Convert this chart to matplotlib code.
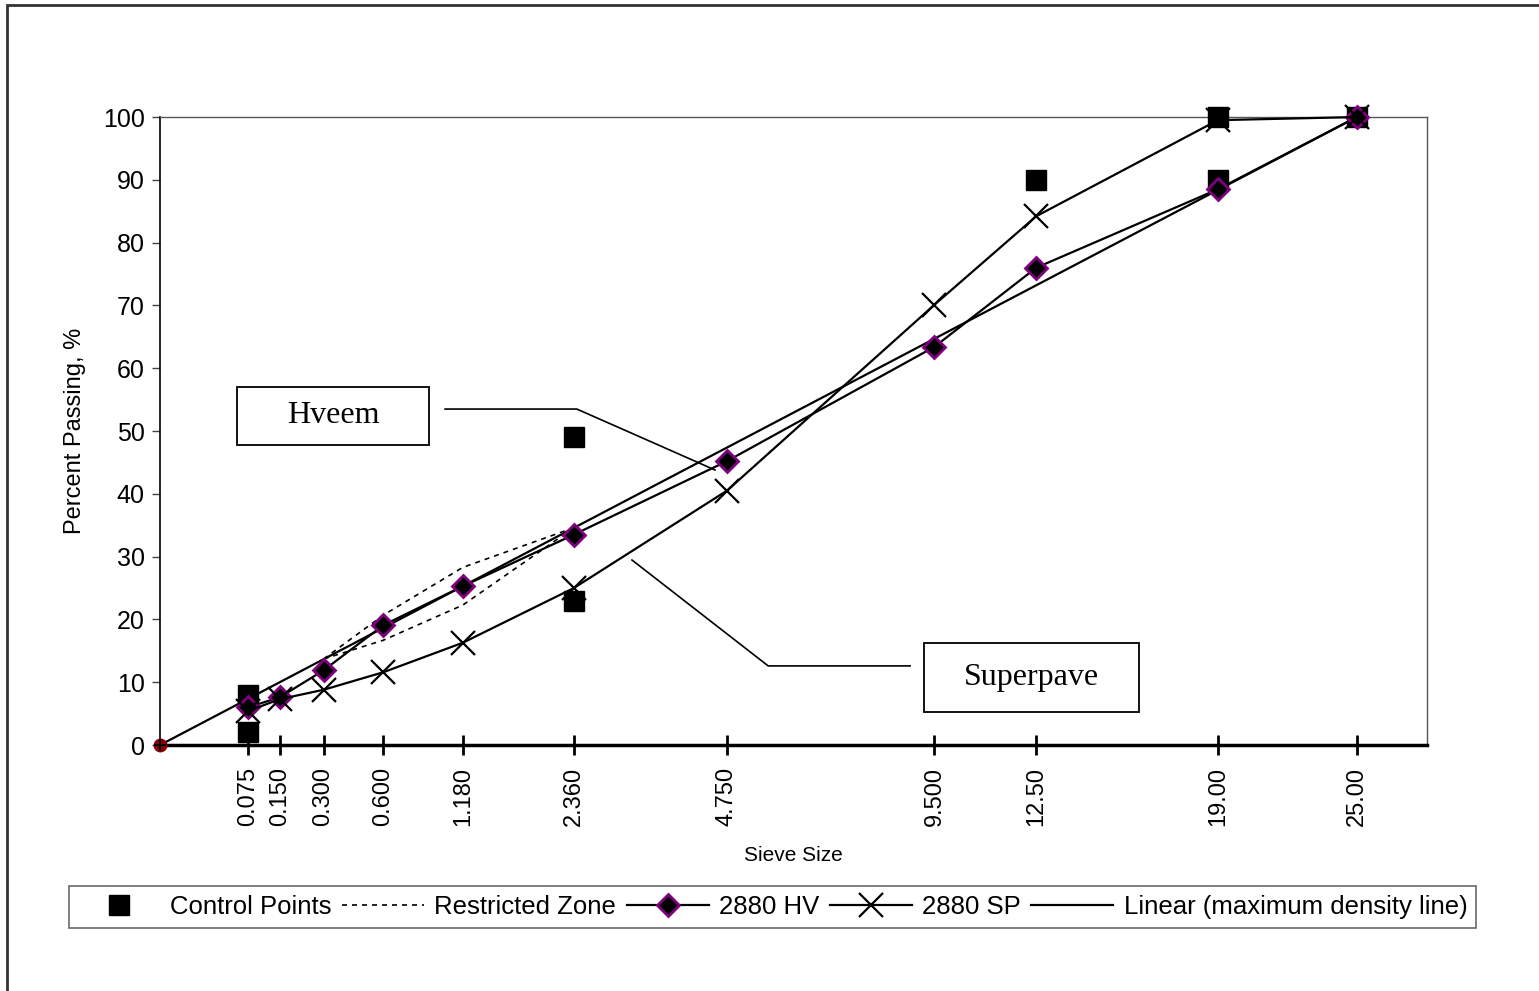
import matplotlib
matplotlib.use("Agg")
import matplotlib.pyplot as plt
from matplotlib.patches import Rectangle
import numpy as np

plt.rcParams.update({"font.family": ["Liberation Sans", "DejaVu Sans"]})

# 0.45 power gradation chart data
sieves = [0.075, 0.150, 0.300, 0.600, 1.180, 2.360, 4.750, 9.500, 12.50, 19.00, 25.00]
sieve_labels = ["0.075", "0.150", "0.300", "0.600", "1.180", "2.360", "4.750",
                "9.500", "12.50", "19.00", "25.00"]
hv_pass = [6.0, 7.6, 11.9, 19.1, 25.3, 33.5, 45.2, 63.4, 76.0, 88.5, 100.0]
sp_pass = [5.4, 7.3, 8.8, 11.6, 16.3, 25.0, 40.5, 70.1, 84.2, 99.5, 100.0]

ctrl_size = [0.075, 0.075, 2.360, 2.360, 12.50, 19.00, 19.00, 25.00]
ctrl_pass = [2.0, 8.0, 23.0, 49.0, 90.0, 90.0, 100.0, 100.0]

rz_size = [0.300, 0.600, 1.180, 2.360]
rz_lower = [13.7, 16.7, 22.3, 34.6]
rz_upper = [13.7, 20.7, 28.3, 34.6]

mdl_size = [0.0, 25.00]
mdl_pass = [0.0, 100.0]

POW = 0.45
fwd = lambda x: np.sign(x) * np.abs(x) ** POW
inv = lambda x: np.sign(x) * np.abs(x) ** (1 / POW)

fig = plt.figure(figsize=(15.39, 9.91), dpi=100)
ax = fig.add_axes([0.104, 0.2482, 0.8232, 0.6337])
ax.set_xscale("function", functions=(fwd, inv))

ax.plot(mdl_size, mdl_pass, color="black", lw=1.6, zorder=2, clip_on=False,
        label="Linear (maximum density line)")
ax.plot(rz_size, rz_lower, color="black", lw=1.2, ls=(0, (3, 3)), zorder=2)
ax.plot(rz_size, rz_upper, color="black", lw=1.2, ls=(0, (3, 3)), zorder=2,
        label="Restricted Zone")
ax.plot(ctrl_size, ctrl_pass, ls="none", marker="s", ms=15, color="black",
        zorder=3, clip_on=False, label="Control Points")
ax.plot(mdl_size, mdl_pass, marker="o", ms=9, color="#8B0000", ls="none",
        zorder=3.5, clip_on=False)
ax.plot(sieves, hv_pass, color="black", lw=1.6, marker="D", ms=11,
        mfc="black", mec="#800080", mew=2, zorder=4, clip_on=False, label="2880 HV")
ax.plot(sieves, sp_pass, color="black", lw=1.6, marker="x", ms=17, mew=1.6,
        zorder=4, clip_on=False, label="2880 SP")
ax.plot(mdl_size[:1], mdl_pass[:1], marker="+", ms=9, mew=1.5, color="black",
        ls="none", zorder=6, clip_on=False)

ax.set_xlim(0, inv(4.506))
ax.set_ylim(0, 100)
ax.set_yticks(np.arange(0, 101, 10))
ax.set_xticks(sieves)
ax.set_xticklabels(sieve_labels, rotation=90, fontsize=17)
ax.minorticks_off()
ax.tick_params(axis="y", labelsize=18, length=6, width=1, color="#444444", pad=5)
ax.tick_params(axis="x", direction="inout", length=14, width=2, pad=9)

for s in ("top", "right"):
    ax.spines[s].set_color("#555555")
    ax.spines[s].set_linewidth(1)
ax.spines["left"].set_linewidth(1.2)
ax.spines["bottom"].set_linewidth(2.5)

ax.set_xlabel("Sieve Size", fontsize=15, labelpad=14)
ax.set_ylabel("Percent Passing, %", fontsize=17, labelpad=12)

# callout boxes
def callout(text, center, w, h, pts):
    cx, cy = center
    ax.add_patch(Rectangle((cx - w / 2, cy - h / 2), w, h, transform=ax.transAxes,
                           fill=True, fc="white", ec="black", lw=1.3,
                           clip_on=False, zorder=7))
    ax.text(cx, cy, text, transform=ax.transAxes, ha="center", va="center",
            fontsize=23, family=["Liberation Serif", "DejaVu Serif"], zorder=8)
    xs, ys = zip(*pts)
    ax.plot(xs, ys, color="black", lw=1.2, transform=ax.transAxes,
            clip_on=False, zorder=6)

callout("Hveem", (0.1365, 0.524), 0.1523, 0.0924,
        [(0.225, 0.535), (0.329, 0.535), (0.438, 0.438)])
callout("Superpave", (0.688, 0.108), 0.1697, 0.1099,
        [(0.592, 0.126), (0.480, 0.126), (0.3725, 0.2946)])

handles, labels = ax.get_legend_handles_labels()
order = ["Control Points", "Restricted Zone", "2880 HV", "2880 SP",
         "Linear (maximum density line)"]
hmap = dict(zip(labels, handles))
leg = fig.legend([hmap[k] for k in order], order, loc="center", ncol=5,
                 bbox_to_anchor=(0.502, 0.085), fontsize=18.5, frameon=True,
                 fancybox=False, edgecolor="#444444", handlelength=3.2,
                 columnspacing=0.4, handletextpad=0.4, borderpad=0.35)
leg.get_frame().set_linewidth(1.2)

# outer border of the chart area
fig.patches.append(Rectangle((7 / 1539, -0.1), 1.2, 1 - 5 / 991 + 0.1,
                             transform=fig.transFigure, fill=False,
                             ec="#333333", lw=2))

fig.savefig("out.png", dpi=100)
